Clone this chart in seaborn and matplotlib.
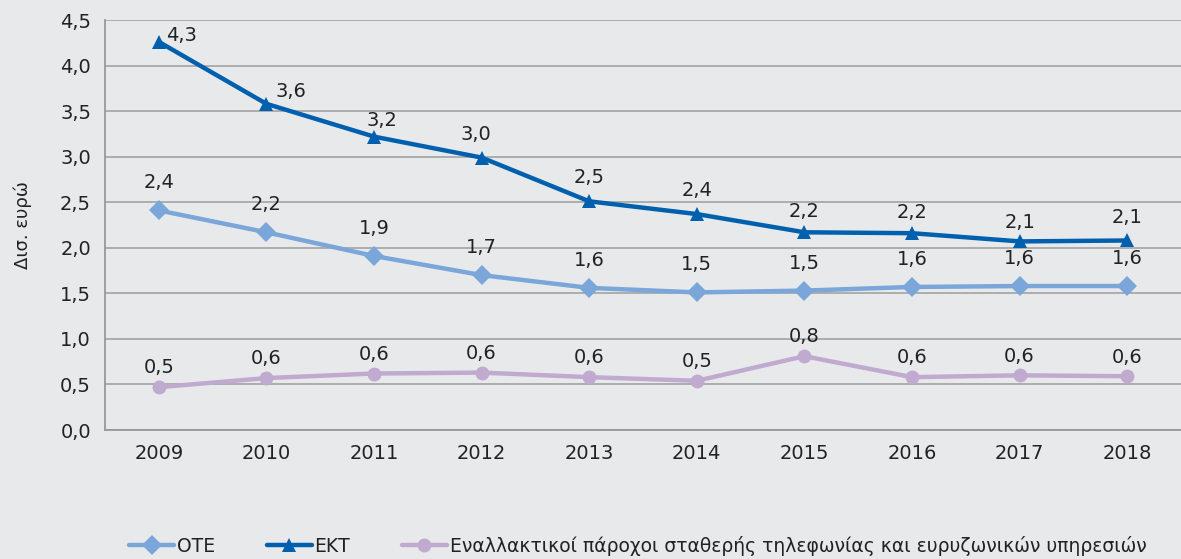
import matplotlib
matplotlib.use("Agg")
import matplotlib.pyplot as plt
import seaborn as sns
import pandas as pd
import numpy as np
from matplotlib.ticker import FuncFormatter, FixedLocator

years = [2009, 2010, 2011, 2012, 2013, 2014, 2015, 2016, 2017, 2018]
ote = [2.41, 2.17, 1.91, 1.70, 1.56, 1.51, 1.53, 1.57, 1.58, 1.58]
ekt = [4.26, 3.58, 3.22, 2.99, 2.51, 2.37, 2.17, 2.16, 2.07, 2.08]
alt = [0.47, 0.57, 0.62, 0.63, 0.58, 0.54, 0.81, 0.58, 0.60, 0.59]
series_names = ["ΟΤΕ", "ΕΚΤ", "Εναλλακτικοί πάροχοι σταθερής τηλεφωνίας και ευρυζωνικών υπηρεσιών"]
y_label = "Δισ. ευρώ"

sns.set_theme(style="white")
plt.rcParams['font.family'] = ['DejaVu Sans']

bg = "#E8E9EB"
colors = ["#7AA6DA", "#0060AE", "#C0AACF"]
markers = ["D", "^", "o"]

df = pd.DataFrame({
    "x": list(range(len(years))) * 3,
    "value": ote + ekt + alt,
    "series": [series_names[0]] * len(years) + [series_names[1]] * len(years) + [series_names[2]] * len(years),
})

fig = plt.figure(figsize=(11.81, 5.59), dpi=100, facecolor=bg)
ax = fig.add_axes([105/1181, 1 - 430/559, (1181-105)/1181, (430-20)/559], facecolor=bg)

sns.lineplot(data=df, x="x", y="value", hue="series", style="series",
             palette=colors, markers=markers, dashes=False, linewidth=3.2,
             markersize=10, markeredgewidth=0, ax=ax, legend=True)

ax.set_xlim(-0.5, len(years) - 0.5)
ax.set_ylim(0, 4.5)
ax.set_yticks(np.arange(0, 4.51, 0.5))
ax.yaxis.set_major_formatter(FuncFormatter(lambda v, p: f"{v:.1f}".replace(".", ",")))
ax.set_xticks(range(len(years)))
ax.set_xticklabels([str(y) for y in years])
ax.xaxis.set_minor_locator(FixedLocator(np.arange(-0.5, len(years), 1.0)))
ax.tick_params(axis="x", which="major", length=0, pad=10, labelsize=14, colors="#222222")
ax.tick_params(axis="x", which="minor", length=6, width=1.2, color="#999999", direction="out")
ax.tick_params(axis="y", length=6, width=1.2, color="#999999", pad=4, labelsize=14, labelcolor="#222222")
ax.grid(axis="y", color="#A8A8A8", linewidth=1.3)
ax.set_axisbelow(True)
for s in ["top", "right"]:
    ax.spines[s].set_visible(False)
for s in ["left", "bottom"]:
    ax.spines[s].set_color("#999999")
    ax.spines[s].set_linewidth(1.3)
ax.set_xlabel("")
ax.set_ylabel(y_label, fontsize=13, color="#222222", labelpad=20)

fmt = lambda v: f"{v:.1f}".replace(".", ",")
ekt_off = [(16, -2), (18, 2), (6, 5), (-4, 10), (0, 10), (0, 10), (0, 8), (0, 8), (0, 7), (0, 10)]
for i, v in enumerate(ote):
    ax.annotate(fmt(v), (i, v), xytext=(0, 13), textcoords="offset points",
                ha="center", va="bottom", fontsize=14, color="#222222")
for i, v in enumerate(ekt):
    dx, dy = ekt_off[i]
    ax.annotate(fmt(v), (i, v), xytext=(dx, dy), textcoords="offset points",
                ha="center", va="bottom", fontsize=14, color="#222222")
for i, v in enumerate(alt):
    ax.annotate(fmt(v), (i, v), xytext=(0, 7), textcoords="offset points",
                ha="center", va="bottom", fontsize=14, color="#222222")

handles, labels = ax.get_legend_handles_labels()
ax.legend_.remove()
fig.legend(handles, labels, loc="lower left", bbox_to_anchor=(116/1181, -0.018),
           ncol=3, frameon=False, fontsize=13.5, handlelength=2.4, handletextpad=0.15,
           columnspacing=2.75, labelcolor="#222222", borderaxespad=0.3)

fig.savefig("out.png", dpi=100, facecolor=bg)
